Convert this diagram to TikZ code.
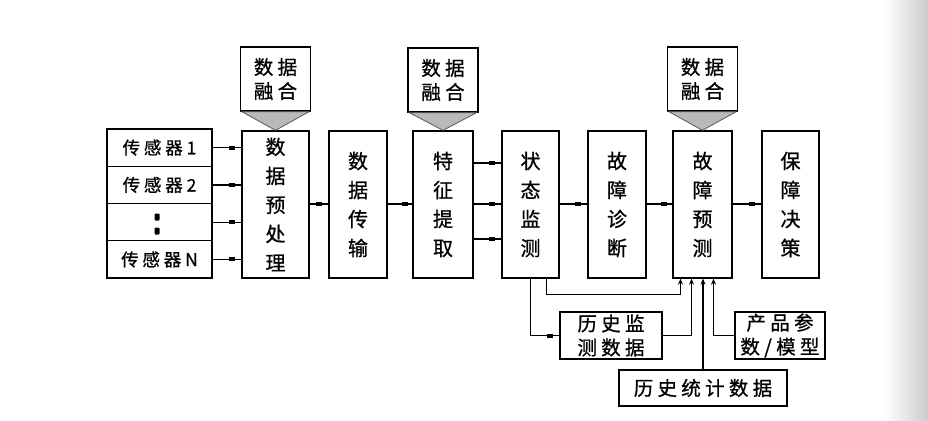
\documentclass[tikz,border=0pt]{standalone}
\usepackage{fontspec}
\newfontfamily\cjk[FakeBold=0.9]{Noto Sans CJK SC}
\newfontfamily\cjksp[LetterSpace=22,FakeBold=0.9]{Noto Sans CJK SC}
\usetikzlibrary{arrows.meta,calc}
\begin{document}
\begin{tikzpicture}[x=1pt,y=-1pt,
  box/.style={draw, line width=1.3pt, inner sep=0pt, align=center},
  tall/.style={box, minimum height=147pt, font=\cjk\fontsize{20}{29}\selectfont},
  sensor/.style={box, minimum width=105pt, minimum height=37.25pt, font=\cjksp\fontsize{17.5}{20}\selectfont},
  fusion/.style={box, minimum width=70pt, minimum height=64pt, font=\cjksp\fontsize{19.5}{24}\selectfont},
  tri/.style={fill=gray!55, draw=gray!70!black, line width=0.8pt},
  lowbox/.style={box, font=\cjksp\fontsize{19.5}{24}\selectfont},
  conn/.style={line width=1.2pt},
  arr/.style={line width=1.2pt, -{Stealth[length=6pt,width=5pt]}},
  mk/.style={fill, inner sep=0pt, minimum width=6pt, minimum height=4pt},
  dotm/.style={fill, rounded corners=1pt, inner sep=0pt, minimum width=5pt, minimum height=7pt}
]
\useasboundingbox (0,0) rectangle (928,420);
\shade[left color=white, right color=black!20] (884,0) rectangle (928,420);

% sensors
\node[sensor] (s1) at (159.5,147.6) {传感器1};
\node[sensor] (s2) at (159.5,184.9) {传感器2};
\node[sensor] (s3) at (159.5,222.1) {};
\node[sensor] (s4) at (159.5,259.4) {传感器N};
\node[dotm] (d1) at (157,217) {};
\node[dotm] (d2) at (157,231) {};

% main boxes
\node[tall, minimum width=67pt] (pre) at (275.5,204.5) {数\\据\\预\\处\\理};
\node[tall, minimum width=58pt] (tr)  at (358,204.5) {数\\据\\传\\输};
\node[tall, minimum width=60pt] (fe)  at (443,204.5) {特\\征\\提\\取};
\node[tall, minimum width=57pt] (zt)  at (530.5,204.5) {状\\态\\监\\测};
\node[tall, minimum width=58pt] (zd)  at (617,204.5) {故\\障\\诊\\断};
\node[tall, minimum width=59pt] (yc)  at (702.5,204.5) {故\\障\\预\\测};
\node[tall, minimum width=57pt] (jc)  at (790.5,204.5) {保\\障\\决\\策};

% fusion boxes
\node[fusion] (f1) at (pre.north |- 0,79) {数据\\融合};
\node[fusion] (f2) at (fe.north |- 0,80) {数据\\融合};
\node[fusion] (f3) at (yc.north |- 0,79) {数据\\融合};
\foreach \f/\m in {f1/pre,f2/fe,f3/yc}{
  \filldraw[tri] ([xshift=2pt]\f.south west) -- ([xshift=-2pt]\f.south east) -- (\m.north) -- cycle;
}

% sensor connectors
\foreach \s in {s1,s2,s3,s4}{
  \draw[conn] (\s.east) -- node[mk, pos=0.68]{} (pre.west |- \s.east);
}
\draw[conn] (pre.east |- 0,204) -- node[mk, pos=0.5]{} (tr.west |- 0,204);
\draw[conn] (tr.east |- 0,204) -- node[mk, pos=0.7]{} (fe.west |- 0,204);
\foreach \yy in {163,204,239}{
  \draw[conn] (fe.east |- 0,\yy) -- node[mk, pos=0.68]{} (zt.west |- 0,\yy);
}
\draw[conn] (zt.east |- 0,204) -- node[mk, pos=0.65]{} (zd.west |- 0,204);
\draw[conn] (zd.east |- 0,204) -- node[mk, pos=0.68]{} (yc.west |- 0,204);
\draw[conn] (yc.east |- 0,204) -- node[mk, pos=0.68]{} (jc.west |- 0,204);

% lower boxes
\node[lowbox, minimum width=102pt, minimum height=47pt] (ls) at (611,335.5) {历史监\\测数据};
\node[lowbox, minimum width=168pt, minimum height=36pt] (ts) at (703,388) {历史统计数据};
\node[lowbox, minimum width=90pt, minimum height=47pt] (cp) at (780,335.5) {产品参\\数/模型};

% lower connectors
\draw[arr] ([xshift=16pt]zt.south) -- ++(0,16) -| ([xshift=-22pt]yc.south);
\draw[conn] (zt.south) |- node[mk, pos=0.83]{} (ls.west);
\draw[arr] (ls.east) -| ([xshift=-11pt]yc.south);
\draw[arr] (ts.north) -- (ts.north |- yc.south);
\draw[arr] (cp.west) -| ([xshift=11pt]yc.south);
\end{tikzpicture}
\end{document}
